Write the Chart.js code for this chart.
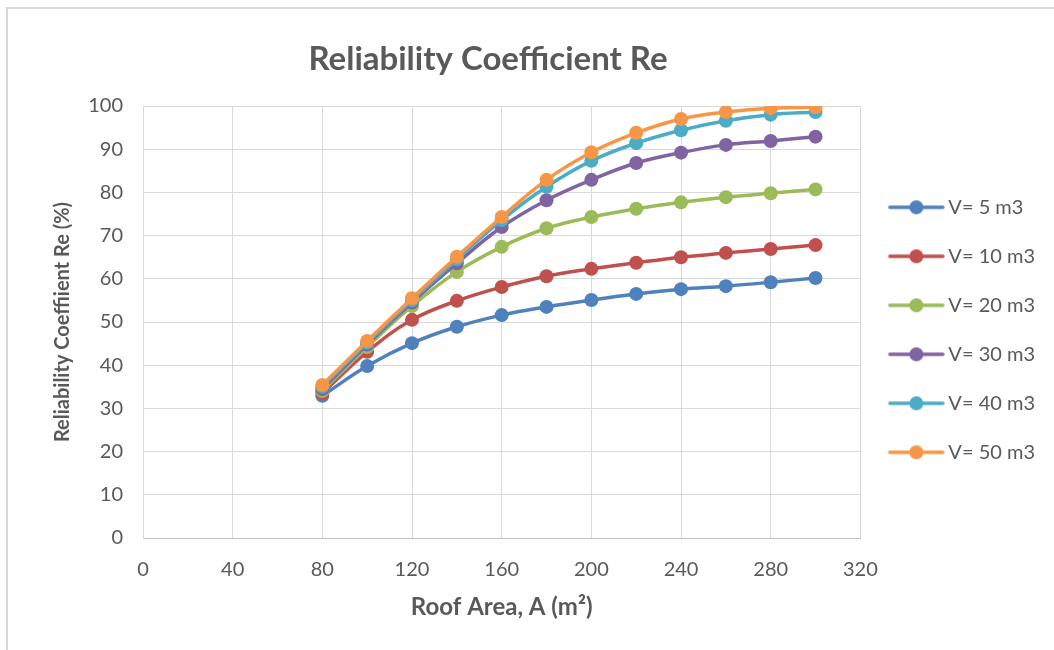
<!DOCTYPE html>
<html lang="en">
<head>
<meta charset="utf-8">
<title>Reliability Coefficient Re</title>
<style>
  html, body { margin: 0; padding: 0; background: #fff; }
  #wrap { width: 1054px; height: 650px; position: relative; }
</style>
</head>
<body>
<div id="wrap"><canvas id="chart" width="1054" height="650"></canvas></div>
<script src="https://cdn.jsdelivr.net/npm/chart.js"></script>
<script>
// roof area (m2)
const roofArea = [80, 100, 120, 140, 160, 180, 200, 220, 240, 260, 280, 300];

// reliability coefficient (%) per tank volume
const v5  = [32.9, 39.8, 45.1, 48.9, 51.6, 53.5, 55.1, 56.5, 57.6, 58.3, 59.2, 60.2];
const v10 = [33.5, 43.1, 50.5, 54.9, 58.1, 60.6, 62.3, 63.7, 65.0, 66.0, 66.9, 67.8];
const v20 = [34.0, 44.2, 53.7, 61.6, 67.4, 71.7, 74.3, 76.2, 77.7, 78.9, 79.8, 80.7];
const v30 = [34.5, 44.8, 54.5, 63.6, 72.0, 78.2, 82.9, 86.8, 89.2, 91.0, 91.9, 92.9];
const v40 = [35.0, 45.2, 55.0, 64.5, 73.6, 81.3, 87.3, 91.4, 94.4, 96.6, 98.0, 98.6];
const v50 = [35.4, 45.6, 55.5, 65.1, 74.3, 82.9, 89.3, 93.8, 97.0, 98.6, 99.5, 99.7];

const seriesNames = ['V= 5 m3', 'V= 10 m3', 'V= 20 m3', 'V= 30 m3', 'V= 40 m3', 'V= 50 m3'];
const seriesValues = [v5, v10, v20, v30, v40, v50];
const seriesColors = ['#4f81bd', '#c0504d', '#9bbb59', '#8064a2', '#4bacc6', '#f79646'];

const xTicks = [0, 40, 80, 120, 160, 200, 240, 280, 320];

const textColor = '#595959';
const gridColor = '#d9d9d9';

// little line-with-dot swatch for each legend entry
function makeSwatch(color) {
  const c = document.createElement('canvas');
  c.width = 64; c.height = 18;
  const g = c.getContext('2d');
  g.strokeStyle = color;
  g.lineWidth = 3.5;
  g.lineCap = 'round';
  g.beginPath();
  g.moveTo(8, 9); g.lineTo(61, 9);
  g.stroke();
  g.fillStyle = color;
  g.beginPath();
  g.arc(34.5, 9, 7, 0, Math.PI * 2);
  g.fill();
  return c;
}
const swatches = seriesColors.map(makeSwatch);

const datasets = seriesNames.map((name, i) => ({
  label: name,
  data: roofArea.map((a, k) => ({x: a, y: seriesValues[i][k]})),
  borderColor: seriesColors[i],
  backgroundColor: seriesColors[i],
  borderWidth: 3.5,
  pointRadius: 7,
  pointHoverRadius: 7,
  pointBorderWidth: 0,
  tension: 0.4,
  order: seriesNames.length - i   // later series on top
}));

// frame + chart title
const decor = {
  id: 'decor',
  beforeDraw(chart) {
    const ctx = chart.ctx;
    ctx.save();
    ctx.fillStyle = '#fff';
    ctx.fillRect(0, 0, chart.width, chart.height);
    ctx.strokeStyle = gridColor;
    ctx.lineWidth = 2;
    ctx.beginPath();
    ctx.moveTo(7, chart.height);
    ctx.lineTo(7, 8);
    ctx.lineTo(chart.width, 8);
    ctx.stroke();
    ctx.restore();
  },
  afterDraw(chart) {
    const ctx = chart.ctx;
    ctx.save();
    ctx.fillStyle = textColor;
    ctx.font = 'bold 33px Lato';
    ctx.textAlign = 'center';
    ctx.textBaseline = 'middle';
    ctx.fillText('Reliability Coefficient Re', 488, 59);
    ctx.restore();
  }
};

new Chart(document.getElementById('chart'), {
  type: 'line',
  data: { datasets: datasets },
  plugins: [decor],
  options: {
    responsive: false,
    animation: false,
    layout: { padding: { left: 10, top: 106, right: 9, bottom: 10 } },
    font: { family: 'Lato' },
    plugins: {
      tooltip: { enabled: false },
      legend: {
        position: 'right',
        fullSize: false,
        title: { display: true, text: ' ', padding: 0, font: { size: 13 } },
        labels: {
          usePointStyle: true,
          pointStyleWidth: 49,
          padding: 29,
          color: textColor,
          font: { family: 'Lato', size: 20 },
          sort: (a, b) => a.datasetIndex - b.datasetIndex,
          generateLabels(chart) {
            return Chart.defaults.plugins.legend.labels.generateLabels(chart)
              .map(item => Object.assign(item, { pointStyle: swatches[item.datasetIndex] }));
          }
        }
      }
    },
    scales: {
      x: {
        type: 'linear',
        min: 0,
        max: 320,
        afterBuildTicks: s => { s.ticks = xTicks.map(v => ({value: v})); },
        afterFit: s => { s.height = 102; },
        grid: { color: gridColor, lineWidth: 1, drawTicks: false },
        border: { color: '#bfbfbf', width: 1 },
        ticks: { color: textColor, font: { family: 'Lato', size: 20 }, padding: 20, maxRotation: 0 },
        title: {
          display: true,
          text: 'Roof Area, A (m²)',
          color: textColor,
          font: { family: 'Lato', size: 24, weight: 'bold' },
          padding: { top: 0, bottom: 18 }
        }
      },
      y: {
        min: 0,
        max: 100,
        ticks: { stepSize: 10, color: textColor, font: { family: 'Lato', size: 20 }, padding: 20 },
        afterFit: s => { s.width = 133; },
        grid: { color: gridColor, lineWidth: 1, drawTicks: false },
        border: { color: gridColor, width: 1 },
        title: {
          display: true,
          text: 'Reliability Coeffiient Re (%)',
          color: textColor,
          font: { family: 'Lato', size: 20, weight: 'bold' },
          padding: { top: 41, bottom: 0 }
        }
      }
    }
  }
});
</script>
</body>
</html>
